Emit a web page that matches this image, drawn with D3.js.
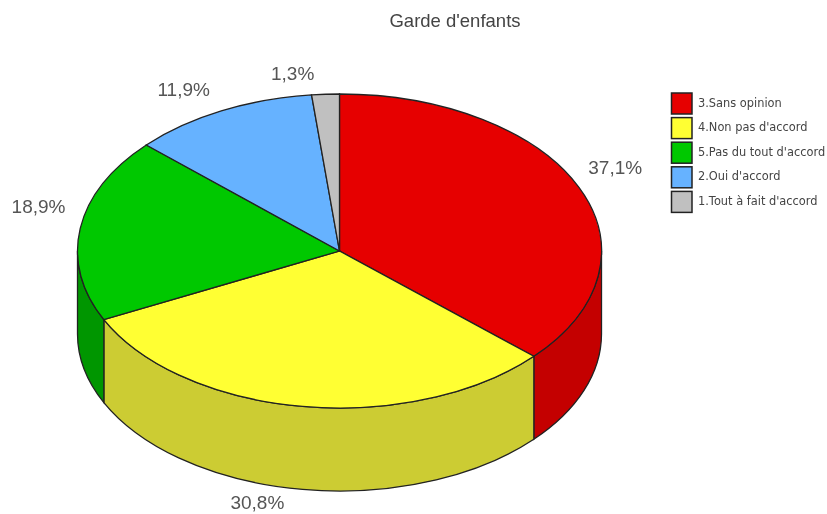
<!DOCTYPE html>
<html>
<head>
<meta charset="utf-8">
<script src="https://cdn.jsdelivr.net/npm/d3@7"></script>
<style>
  html, body { margin: 0; background: #fff; }
  svg { display: block; filter: blur(0.5px); }
  .title { font: 18.5px "Liberation Sans", Arial, sans-serif; fill: #444; text-anchor: middle; }
  .pct { font: 19px "Liberation Sans", Arial, sans-serif; fill: #555; }
  .legend-label { font: 11.4px "DejaVu Sans", sans-serif; fill: #444; }
</style>
</head>
<body>
<div id="chart"></div>
<script>
const categories = [`3.Sans opinion`, `4.Non pas d'accord`, `5.Pas du tout d'accord`, `2.Oui d'accord`, `1.Tout à fait d'accord`];
// slice shares as drawn in the picture, they differ a bit from the printed labels
const values = [36.7, 31.1, 19, 11.5, 1.7];
const valueLabels = [`37,1%`, `30,8%`, `18,9%`, `11,9%`, `1,3%`];
const topColors = [`#e60000`, `#ffff33`, `#00c800`, `#66b2ff`, `#c0c0c0`];
const sideColors = [`#c40000`, `#cccc33`, `#009600`, `#5290cc`, `#999999`];

const width = 827, height = 514;
const cx = 339.5, cy = 251, rx = 262, ry = 157, depth = 83;

// hand placed offsets, the radial rule alone leaves the labels a few px off
const labelNudgeX = [2, -15, 8, -1, -10];
const labelNudgeY = [4, 0, -1, 1, 0];

const svg = d3.select(`#chart`).append(`svg`)
    .attr(`width`, width)
    .attr(`height`, height);

svg.append(`text`)
    .attr(`class`, `title`)
    .attr(`x`, 455)
    .attr(`y`, 27)
    .text(`Garde d'enfants`);

const slices = d3.pie().sort(null).value((d) => d)(values);
const px = (a) => cx + rx * Math.sin(a);
const py = (a) => cy - ry * Math.cos(a);

// the wall is only visible on the front half of the ellipse
const wallPath = (d) => {
  const a = Math.max(d.startAngle, Math.PI / 2);
  const b = Math.min(d.endAngle, Math.PI * 1.5);
  if (b <= a) return null;
  return `M${px(a)},${py(a)}A${rx},${ry} 0 0 1 ${px(b)},${py(b)}`
    + `L${px(b)},${py(b) + depth}A${rx},${ry} 0 0 0 ${px(a)},${py(a) + depth}Z`;
};

svg.append(`g`).selectAll(`path`)
    .data(slices)
  .enter().append(`path`)
    .attr(`d`, wallPath)
    .attr(`fill`, (d, i) => sideColors[i])
    .attr(`stroke`, `#222`)
    .attr(`stroke-width`, 1.3);

const arc = d3.arc().innerRadius(0).outerRadius(rx);

svg.append(`g`)
    .attr(`transform`, `translate(${cx},${cy}) scale(1,${ry / rx})`)
  .selectAll(`path`)
    .data(slices)
  .enter().append(`path`)
    .attr(`d`, arc)
    .attr(`fill`, (d, i) => topColors[i])
    .attr(`stroke`, `#222`)
    .attr(`stroke-width`, 1.3)
    .attr(`vector-effect`, `non-scaling-stroke`);

svg.append(`g`).selectAll(`text`)
    .data(slices)
  .enter().append(`text`)
    .attr(`class`, `pct`)
    .attr(`text-anchor`, (d) => Math.sin((d.startAngle + d.endAngle) / 2) > 0 ? `start` : `end`)
    .attr(`dy`, `0.35em`)
    .attr(`x`, (d, i) => {
      const mid = (d.startAngle + d.endAngle) / 2;
      return cx + (Math.sin(mid) > 0 ? 270 : 285) * Math.sin(mid) + labelNudgeX[i];
    })
    .attr(`y`, (d, i) => {
      const mid = (d.startAngle + d.endAngle) / 2;
      const s = Math.sin(mid), c = Math.cos(mid);
      return cy - 178 * c - 18 * s * s + (c < -0.5 ? depth - 8 : 0) + labelNudgeY[i];
    })
    .text((d, i) => valueLabels[i]);

const legendY = d3.scaleBand()
    .domain(categories)
    .range([91.5, 214.5]);

const legend = svg.append(`g`).selectAll(`g`)
    .data(categories)
  .enter().append(`g`)
    .attr(`transform`, (d) => `translate(671.5,${legendY(d)})`);

legend.append(`rect`)
    .attr(`y`, 1.5)
    .attr(`width`, 20.5)
    .attr(`height`, 21)
    .attr(`fill`, (d, i) => topColors[i])
    .attr(`stroke`, `#222`)
    .attr(`stroke-width`, 1.5);

legend.append(`text`)
    .attr(`class`, `legend-label`)
    .attr(`x`, 26.5)
    .attr(`y`, 15)
    .text((d) => d);
</script>
</body>
</html>
